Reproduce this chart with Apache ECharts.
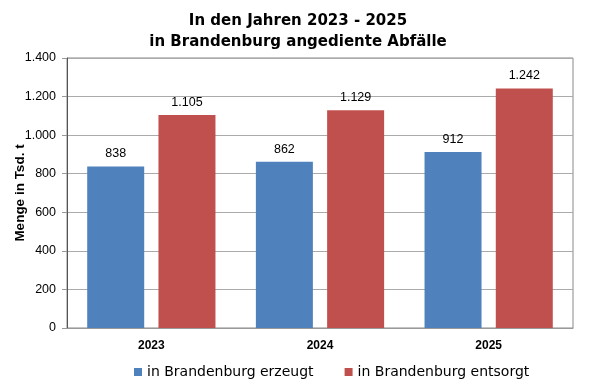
<!DOCTYPE html>
<html><head><meta charset="utf-8">
<script src="https://cdn.jsdelivr.net/npm/echarts@6/dist/echarts.min.js"></script>
<style>html,body{margin:0;padding:0;background:#fff}#c{width:596px;height:386px}</style>
</head><body><div id="c"></div>
<script>
const categories = ['2023', '2024', '2025'];
const erzeugt = [838, 862, 912];
const entsorgt = [1105, 1129, 1242];
const seriesNames = ['in Brandenburg erzeugt', 'in Brandenburg entsorgt'];
const yTicks = [0, 200, 400, 600, 800, 1000, 1200, 1400];

function fmt(v) { return String(v).replace(/\B(?=(\d{3})+(?!\d))/g, '.'); }

const chart = echarts.init(document.getElementById('c'));
const font = '"Liberation Sans", Arial, sans-serif';
chart.setOption({
  animation: false,
  title: {
    text: 'In den Jahren 2023 - 2025\nin Brandenburg angediente Abfälle',
    left: 'center', top: 6,
    textStyle: { fontFamily: 'DejaVu Sans', fontSize: 15, fontWeight: 'bold', lineHeight: 21, color: '#000' }
  },
  legend: {
    top: 360, left: 129, itemWidth: 8, itemHeight: 8, itemGap: 31, icon: 'rect',
    textStyle: { fontFamily: 'DejaVu Sans', fontSize: 14, color: '#000' }
  },
  grid: { left: 67, right: 23, top: 58, bottom: 58, show: true, borderColor: '#888', borderWidth: 1, outerBoundsMode: 'none', containLabel: false },
  xAxis: {
    type: 'category', data: categories,
    axisLine: { lineStyle: { color: '#999' } }, axisTick: { show: false },
    axisLabel: { fontFamily: font, fontSize: 12, fontWeight: 'bold', color: '#000', margin: 12 }
  },
  yAxis: {
    type: 'value', min: 0, max: 1400, interval: 200,
    name: 'Menge in Tsd. t', nameLocation: 'middle', nameGap: 40, nameMoveOverlap: false,
    nameTextStyle: { fontFamily: font, fontSize: 13.5, fontWeight: 'bold', color: '#000' },
    axisLine: { show: true, lineStyle: { color: '#555' } },
    axisTick: { show: true, length: 5, lineStyle: { color: '#999' } },
    splitLine: { lineStyle: { color: '#aaa' } },
    axisLabel: { fontFamily: font, fontSize: 12.5, color: '#000', margin: 11,
      formatter: v => yTicks.includes(v) ? fmt(v) : '' }
  },
  series: [
    { name: seriesNames[0], type: 'bar', data: erzeugt, barWidth: 57, barGap: '25%',
      itemStyle: { color: '#4F81BD' },
      label: { show: true, position: 'top', distance: 6, fontFamily: font, fontSize: 12.5, color: '#000', formatter: p => fmt(p.value) } },
    { name: seriesNames[1], type: 'bar', data: entsorgt, barWidth: 57,
      itemStyle: { color: '#C0504D' },
      label: { show: true, position: 'top', distance: 6, fontFamily: font, fontSize: 12.5, color: '#000', formatter: p => fmt(p.value) } }
  ]
});
</script></body></html>
